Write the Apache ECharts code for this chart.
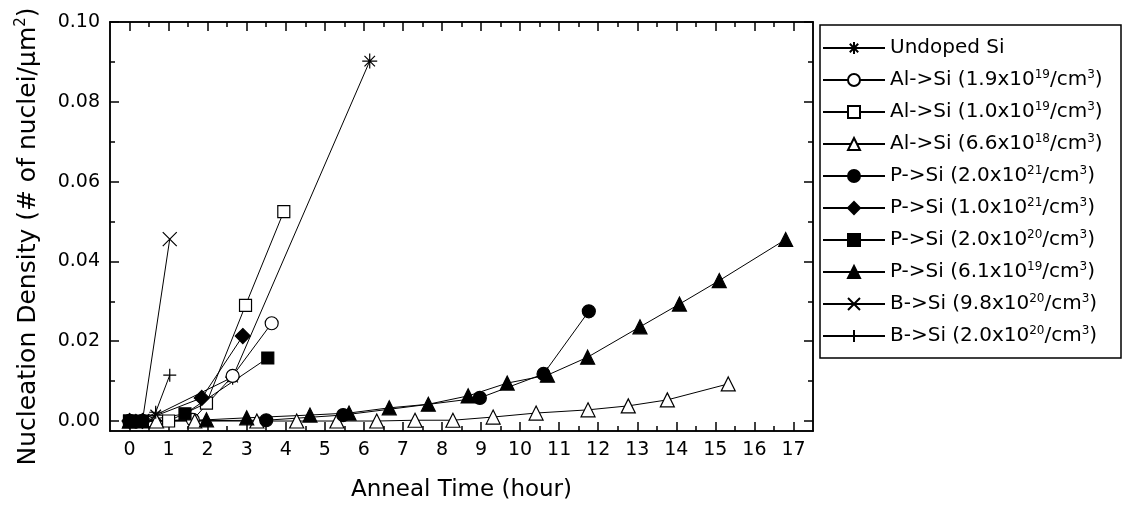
<!DOCTYPE html>
<html>
<head>
<meta charset="utf-8">
<script src="https://cdn.jsdelivr.net/npm/echarts@6/dist/echarts.min.js"></script>
<style>
  html, body { margin: 0; padding: 0; background: #fff; }
  #box { width: 1123px; height: 507px; }
</style>
</head>
<body>
<div id="box"></div>
<script>
// tick labels
var xTicks = [0, 1, 2, 3, 4, 5, 6, 7, 8, 9, 10, 11, 12, 13, 14, 15, 16, 17];
var xMinorTicks = [0.5, 1.5, 2.5, 3.5, 4.5, 5.5, 6.5, 7.5, 8.5, 9.5, 10.5, 11.5, 12.5, 13.5, 14.5, 15.5, 16.5];
var yTicks = [0, 0.02, 0.04, 0.06, 0.08, 0.10];
var yMinorTicks = [0.01, 0.03, 0.05, 0.07, 0.09];

// legend names (^ = superscript)
var names = [
  'Undoped Si',
  'Al->Si (1.9x10^19/cm^3)',
  'Al->Si (1.0x10^19/cm^3)',
  'Al->Si (6.6x10^18/cm^3)',
  'P->Si (2.0x10^21/cm^3)',
  'P->Si (1.0x10^21/cm^3)',
  'P->Si (2.0x10^20/cm^3)',
  'P->Si (6.1x10^19/cm^3)',
  'B->Si (9.8x10^20/cm^3)',
  'B->Si (2.0x10^20/cm^3)'
];

// [anneal time (hour), nucleation density]
var undopedSi = [[0, 0], [0.67, 0.0015], [2.64, 0.011], [6.15, 0.0902]];
var al19e19 = [[0, 0], [0.33, 0], [1.62, 0.0003], [2.64, 0.0113], [3.64, 0.0245]];
var al10e19 = [[0, 0], [1.0, 0], [1.97, 0.0045], [2.97, 0.029], [3.95, 0.0525]];
var al66e18 = [[0, 0], [0.69, 0], [1.67, 0], [3.26, 0], [4.28, 0], [5.31, 0], [6.33, 0], [7.31, 0.0002],
  [8.28, 0.0002], [9.31, 0.001], [10.41, 0.002], [11.74, 0.0028], [12.77, 0.0038], [13.77, 0.0053], [15.33, 0.0093]];
var p20e21 = [[0, 0], [0.33, 0], [3.5, 0.0002], [5.47, 0.0015], [8.97, 0.0058], [10.6, 0.0118], [11.76, 0.0275]];
var p10e21 = [[0, 0], [0.33, 0], [1.85, 0.0058], [2.9, 0.0213]];
var p20e20 = [[0, 0], [0.33, 0], [1.42, 0.0018], [3.54, 0.0158]];
var p61e19 = [[0, 0], [0.33, 0], [1.97, 0.0003], [3.0, 0.0008], [4.62, 0.0015], [5.62, 0.002], [6.65, 0.0033],
  [7.65, 0.0042], [8.67, 0.0063], [9.67, 0.0095], [10.7, 0.0115], [11.73, 0.016], [13.07, 0.0236],
  [14.08, 0.0293], [15.1, 0.0352], [16.8, 0.0455]];
var b98e20 = [[0.33, 0], [1.03, 0.0456]];
var b20e20 = [[0, 0], [0.33, 0], [0.67, 0.0022], [1.03, 0.0115]];

var seriesData = [undopedSi, al19e19, al10e19, al66e18, p20e21, p10e21, p20e20, p61e19, b98e20, b20e20];

var asterisk = 'path://M0,5L10,5M5,0L5,10M1.5,1.5L8.5,8.5M1.5,8.5L8.5,1.5';
var cross = 'path://M0,0L10,10M0,10L10,0';
var plus = 'path://M5,0L5,10M0,5L10,5';

// symbol, size, fill
var marks = [
  [asterisk, 15, 'rgba(0,0,0,0)'],
  ['circle', 13, '#fff'],
  ['rect', 12, '#fff'],
  ['triangle', 14, '#fff'],
  ['circle', 13, '#000'],
  ['diamond', 15, '#000'],
  ['rect', 12, '#000'],
  ['triangle', 14, '#000'],
  [cross, 14, 'rgba(0,0,0,0)'],
  [plus, 13, 'rgba(0,0,0,0)']
];

var font = 'DejaVu Sans';
var series = [];
for (var i = 0; i < names.length; i++) {
  series.push({
    name: names[i],
    type: 'line',
    xAxisIndex: 0,
    yAxisIndex: 0,
    data: seriesData[i],
    symbol: marks[i][0],
    symbolSize: marks[i][1],
    showAllSymbol: true,
    itemStyle: { color: marks[i][2], borderColor: '#000', borderWidth: 1.2 },
    lineStyle: { color: '#000', width: 1 },
    emphasis: { disabled: true }
  });
}

function axisBase(min, max) {
  return {
    type: 'value', min: min, max: max,
    splitLine: { show: false },
    axisLine: { show: true, onZero: false, lineStyle: { color: '#000', width: 1.5 } }
  };
}

var xAxes = [];
var yAxes = [];
// grid 0: major ticks, grid 1: minor ticks
[[0, xTicks, 9], [1, xMinorTicks, 5]].forEach(function (d) {
  ['bottom', 'top'].forEach(function (pos) {
    var a = axisBase(-0.5, 17.5);
    a.gridIndex = d[0];
    a.position = pos;
    a.axisTick = { show: true, inside: true, length: d[2], customValues: d[1], lineStyle: { color: '#000', width: 1.5 } };
    a.axisLabel = { show: false };
    if (d[0] === 0 && pos === 'bottom') {
      a.axisLabel = { show: true, customValues: xTicks, margin: 10, color: '#000', fontSize: 19, fontFamily: font };
      a.name = 'Anneal Time (hour)';
      a.nameLocation = 'middle';
      a.nameGap = 48;
      a.nameTextStyle = { color: '#000', fontSize: 23, fontFamily: font };
    }
    xAxes.push(a);
  });
});
[[0, yTicks, 9], [1, yMinorTicks, 5]].forEach(function (d) {
  ['left', 'right'].forEach(function (pos) {
    var a = axisBase(-0.0025, 0.1);
    a.gridIndex = d[0];
    a.position = pos;
    a.axisTick = { show: true, inside: true, length: d[2], customValues: d[1], lineStyle: { color: '#000', width: 1.5 } };
    a.axisLabel = { show: false };
    if (d[0] === 0 && pos === 'left') {
      a.axisLabel = {
        show: true, customValues: yTicks, margin: 10, color: '#000', fontSize: 19, fontFamily: font,
        formatter: function (v) { return v.toFixed(2); }
      };
      a.name = 'Nucleation Density (# of nuclei/\u03bcm{sup|2})';
      a.nameLocation = 'middle';
      a.nameGap = 68;
      a.nameTextStyle = {
        color: '#000', fontSize: 25, fontFamily: font, lineHeight: 28, padding: [0, 20, 0, 0],
        rich: { sup: { fontSize: 15, lineHeight: 15, verticalAlign: 'top', fontFamily: font, color: '#000' } }
      };
    }
    yAxes.push(a);
  });
});

var gridRect = { left: 110, right: 310, top: 22, bottom: 76, containLabel: false, outerBoundsMode: 'none' };

var option = {
  animation: false,
  backgroundColor: '#fff',
  grid: [Object.assign({}, gridRect), Object.assign({}, gridRect)],
  xAxis: xAxes,
  yAxis: yAxes,
  legend: {
    orient: 'vertical',
    left: 822,
    top: 37,
    padding: 0,
    itemGap: 10,
    itemWidth: 62,
    itemHeight: 15,
    selectedMode: false,
    formatter: function (name) { return name.replace(/\^(\d+)/g, '{sup|$1}'); },
    textStyle: {
      color: '#000', fontSize: 20, fontFamily: font, lineHeight: 22,
      rich: { sup: { fontSize: 12, lineHeight: 12, verticalAlign: 'top', color: '#000', fontFamily: font } }
    },
    data: names
  },
  graphic: [{
    type: 'rect',
    shape: { x: 820, y: 25, width: 301, height: 333 },
    style: { fill: 'none', stroke: '#000', lineWidth: 1.5 }
  }],
  series: series
};

var myChart = echarts.init(document.getElementById('box'));
myChart.setOption(option);
</script>
</body>
</html>
